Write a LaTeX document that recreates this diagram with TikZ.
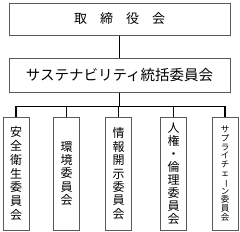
\documentclass[tikz,border=0pt]{standalone}
\usepackage{fontspec}
\setmainfont{Noto Sans CJK JP}
\usepackage{graphicx}
\usetikzlibrary{positioning}
\definecolor{frame}{HTML}{5A5A5A}
\tikzset{
  box/.style={draw=frame,line width=1pt,fill=white,inner sep=0pt,align=center},
  boxh/.style={box,minimum width=221pt,minimum height=32pt},
  boxv/.style={box,minimum width=26pt,minimum height=113pt,font=\fontsize{12}{13.8}\selectfont},
  conn/.style={line width=1.8pt,color=black},
}
\newcommand{\vbar}{\rotatebox[origin=c]{-90}{ー}}

\begin{document}
\begin{tikzpicture}[x=1pt,y=-1pt]
\useasboundingbox (0,0) rectangle (240,231);
\node[boxh,font=\fontsize{13}{15}\selectfont] (board) at (119.5,19) {取\quad 締\quad 役\quad 会};
\node[boxh,minimum height=34pt,font=\fontsize{14.5}{16}\selectfont] (susc) at (119.5,75) {サステナビリティ統括委員会};
\node[boxv] (c1) at (16,173.5) {安\\全\\衛\\生\\委\\員\\会};
\node[boxv,font=\fontsize{12}{13.4}\selectfont] (c2) at (66.5,173.5) {環\\境\\委\\員\\会};
\node[boxv,font=\fontsize{12}{13.4}\selectfont] (c3) at (118.5,173.5) {情\\報\\開\\示\\委\\員\\会};
\node[boxv,font=\fontsize{12}{13}\selectfont] (c4) at (173.5,173.5) {人\\権\\・\\倫\\理\\委\\員\\会};
\node[boxv,font=\fontsize{8.5}{8.8}\selectfont] (c5) at (225,173.5) {サ\\プ\\ラ\\イ\\チ\\ェ\\\vbar\\ン\\委\\員\\会};
% connectors
\draw[conn] (board.south) -- (susc.north);
\draw[conn] (susc.south) -- ++(0,14) coordinate (bus);
\draw[conn] (c1.north) -- (c1.north |- bus) -- (c5.north |- bus) -- (c5.north);
\foreach \c in {c2,c3,c4} { \draw[conn] (\c.north) -- (\c.north |- bus); }
\end{tikzpicture}
\end{document}
